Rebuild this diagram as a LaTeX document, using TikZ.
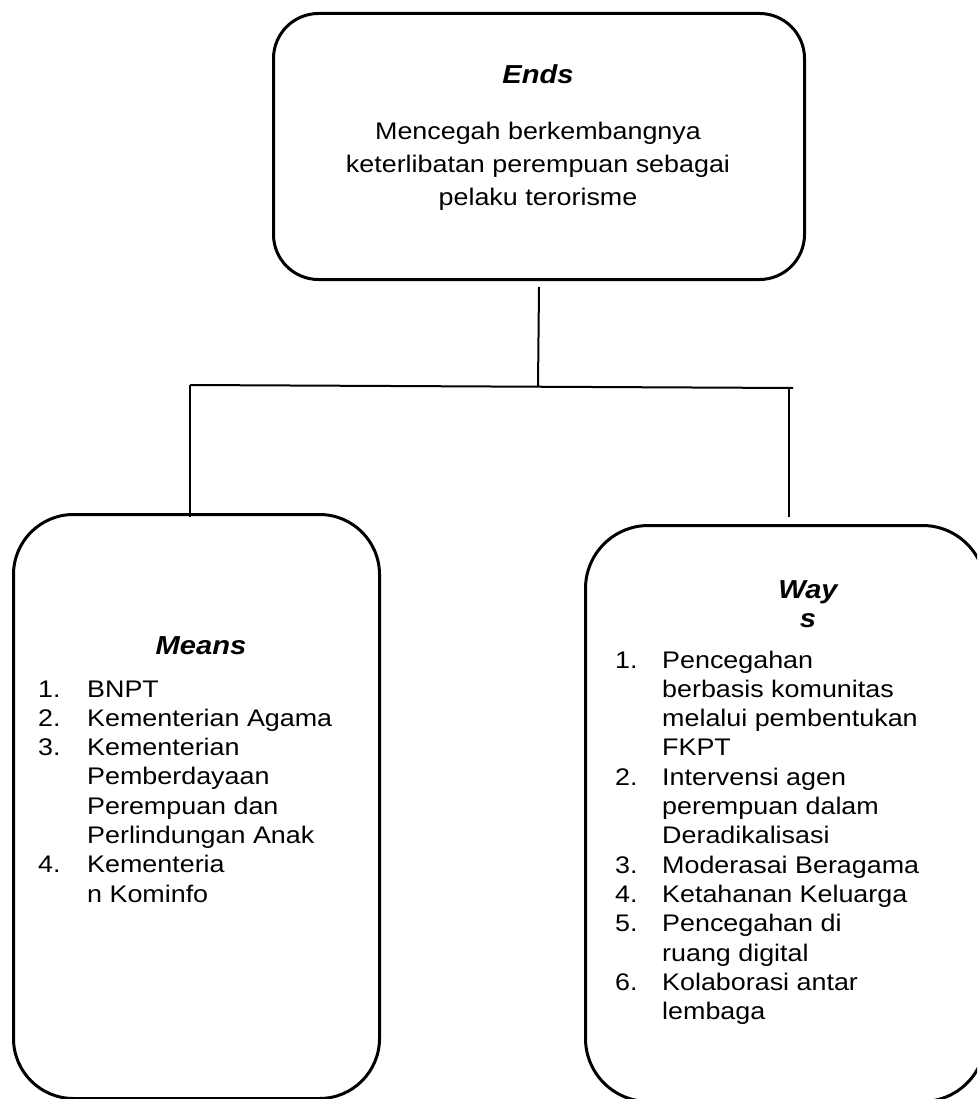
\documentclass[tikz,border=0pt]{standalone}
\usepackage{fontspec}
\setmainfont{Liberation Sans}[FakeStretch=1.12]
\begin{document}
\begin{tikzpicture}[x=1pt,y=-1pt,
  box/.style={draw, line width=3pt, inner sep=0pt, anchor=north west},
  conn/.style={line width=2pt},
  body/.style={font=\fontsize{24}{29.3}\selectfont, inner sep=0pt},
  toptext/.style={font=\fontsize{24}{33}\selectfont, inner sep=0pt},
  title/.style={font=\fontsize{26}{29.5}\selectfont\bfseries\itshape, inner sep=0pt}]
\useasboundingbox (0,0) rectangle (977,1099);
\fill[white] (0,0) rectangle (977,1099);
\begin{scope}
\clip (0,0) rectangle (977,1099);
% boxes
\node[box, rounded corners=45pt, minimum width=531pt, minimum height=266pt] (ends) at (272,12) {};
\node[box, rounded corners=60pt, minimum width=366pt, minimum height=584pt] (means) at (12,513) {};
\node[box, rounded corners=63pt, minimum width=400pt, minimum height=576pt] (ways) at (584,524) {};
\end{scope}
% connectors
\coordinate (jt) at (539,287);
\coordinate (jm) at (538,386);
\coordinate (jl) at (190,385);
\coordinate (jr) at (793,388);
\coordinate (ml) at (190,517);
\coordinate (mrtop) at (789,389);
\coordinate (mr) at (789,517);
\draw[conn] (jt) -- (jm);
\draw[conn] (jl) -- (jr);
\draw[conn] (jl) -- (ml);
\draw[conn] (mrtop) -- (mr);
% texts
\node[title, anchor=base] (endsTitle) at (538,84) {Ends};
\node[toptext, anchor=base] (endsText) at (538,140) {\begin{tabular}[t]{@{}c@{}}Mencegah berkembangnya\\ keterlibatan perempuan sebagai\\ pelaku terorisme\end{tabular}};
\node[title, anchor=base] (meansTitle) at (201,654) {Means};
\node[body, anchor=base west] (meansList) at (38,697) {\begin{tabular}[t]{@{}p{49pt}@{}l@{}}1. & BNPT\\ 2. & Kementerian Agama\\ 3. & Kementerian\\ & Pemberdayaan\\ & Perempuan dan\\ & Perlindungan Anak\\ 4. & Kementeria\\ & n Kominfo\end{tabular}};
\node[title, anchor=base] (waysTitle) at (808,598) {\begin{tabular}[t]{@{}c@{}}Way\\ s\end{tabular}};
\node[body, anchor=base west] (waysList) at (615,668) {\begin{tabular}[t]{@{}p{47pt}@{}l@{}}1. & Pencegahan\\ & berbasis komunitas\\ & melalui pembentukan\\ & FKPT\\ 2. & Intervensi agen\\ & perempuan dalam\\ & Deradikalisasi\\ 3. & Moderasai Beragama\\ 4. & Ketahanan Keluarga\\ 5. & Pencegahan di\\ & ruang digital\\ 6. & Kolaborasi antar\\ & lembaga\end{tabular}};
\end{tikzpicture}
\end{document}
